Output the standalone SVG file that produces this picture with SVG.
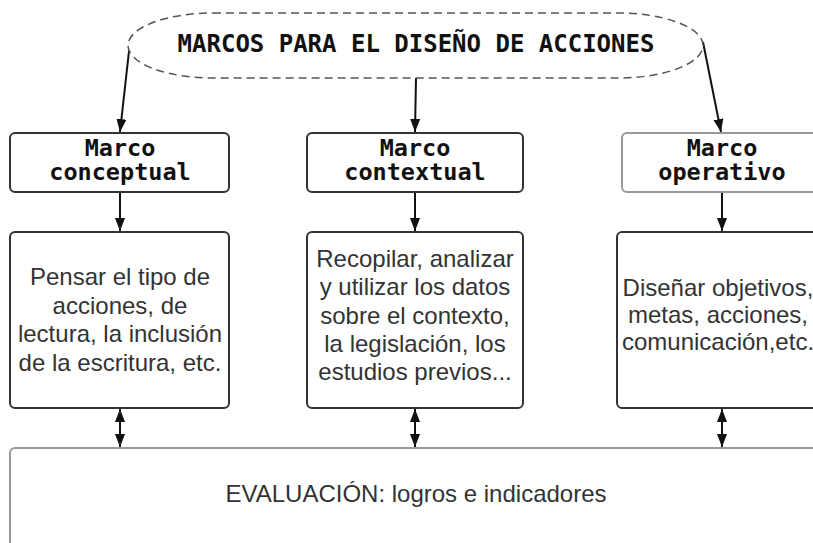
<svg xmlns="http://www.w3.org/2000/svg" width="813" height="543" viewBox="0 0 813 543">
<defs>
<marker id="ah" markerUnits="userSpaceOnUse" markerWidth="14" markerHeight="14" viewBox="0 0 14 14" refX="13" refY="7" orient="auto">
<path d="M0,2 L13,7 L0,12 Z" fill="#111"/>
</marker>
<marker id="ahs" markerUnits="userSpaceOnUse" markerWidth="14" markerHeight="14" viewBox="0 0 14 14" refX="1" refY="7" orient="auto">
<path d="M14,2 L1,7 L14,12 Z" fill="#111"/>
</marker>
<style>
.mono{font-family:"DejaVu Sans Mono","Liberation Mono",monospace;font-weight:bold;font-size:23.5px;fill:#111;text-anchor:middle}
.title{font-size:24px}
.sans{font-family:"Liberation Sans",Arial,sans-serif;font-size:24px;fill:#333;text-anchor:middle}
.box{fill:#fff;stroke:#333;stroke-width:2}
.lbox{fill:#fff;stroke:#999;stroke-width:2}
.con{stroke:#111;stroke-width:2;fill:none}
</style>
</defs>
<rect width="813" height="543" fill="#fff"/>
<g id="connectors">
<line class="con" x1="130" y1="42" x2="120" y2="132" marker-end="url(#ah)"/>
<line class="con" x1="416" y1="78" x2="415" y2="132" marker-end="url(#ah)"/>
<line class="con" x1="703" y1="42" x2="721" y2="132" marker-end="url(#ah)"/>
<line class="con" x1="120" y1="192" x2="120" y2="231" marker-end="url(#ah)"/>
<line class="con" x1="415" y1="192" x2="415" y2="231" marker-end="url(#ah)"/>
<line class="con" x1="722" y1="192" x2="722" y2="231" marker-end="url(#ah)"/>
<line class="con" x1="120" y1="409" x2="120" y2="447" marker-start="url(#ahs)" marker-end="url(#ah)"/>
<line class="con" x1="415" y1="409" x2="415" y2="447" marker-start="url(#ahs)" marker-end="url(#ah)"/>
<line class="con" x1="722" y1="409" x2="722" y2="447" marker-start="url(#ahs)" marker-end="url(#ah)"/>
</g>
<g id="title">
<rect x="128" y="13" width="575" height="65" rx="85" ry="32.5" fill="#fff" stroke="#555" stroke-width="1.5" stroke-dasharray="8 5"/>
<text class="mono title" x="416" y="52">MARCOS PARA EL DISEÑO DE ACCIONES</text>
</g>
<g id="marco-conceptual">
<rect class="box" x="10" y="133" width="219" height="59" rx="5"/>
<text class="mono" x="120" y="156">Marco</text>
<text class="mono" x="120" y="180">conceptual</text>
</g>
<g id="marco-contextual">
<rect class="box" x="307" y="133" width="216" height="59" rx="5"/>
<text class="mono" x="415" y="156">Marco</text>
<text class="mono" x="415" y="180">contextual</text>
</g>
<g id="marco-operativo">
<rect class="lbox" x="622" y="133" width="210" height="59" rx="5"/>
<text class="mono" x="722" y="156">Marco</text>
<text class="mono" x="722" y="180">operativo</text>
</g>
<g id="desc-conceptual">
<rect class="box" x="10" y="232" width="219" height="176" rx="5"/>
<text class="sans" x="120" y="285">Pensar el tipo de</text>
<text class="sans" x="120" y="313.5">acciones, de</text>
<text class="sans" x="120" y="342">lectura, la inclusión</text>
<text class="sans" x="120" y="370.5">de la escritura, etc.</text>
</g>
<g id="desc-contextual">
<rect class="box" x="307" y="232" width="216" height="176" rx="5"/>
<text class="sans" x="415" y="267">Recopilar, analizar</text>
<text class="sans" x="415" y="295">y utilizar los datos</text>
<text class="sans" x="415" y="323.5">sobre el contexto,</text>
<text class="sans" x="415" y="352">la legislación, los</text>
<text class="sans" x="415" y="380">estudios previos...</text>
</g>
<g id="desc-operativo">
<rect class="box" x="617" y="232" width="215" height="176" rx="5"/>
<text class="sans" x="718" y="296">Diseñar objetivos,</text>
<text class="sans" x="718" y="323">metas, acciones,</text>
<text class="sans" x="718" y="350">comunicación,etc.</text>
</g>
<g id="evaluacion">
<rect class="lbox" x="10" y="448" width="830" height="120" rx="5" stroke="#aaa"/>
<text class="sans" x="416" y="502">EVALUACIÓN: logros e indicadores</text>
</g>
</svg>
